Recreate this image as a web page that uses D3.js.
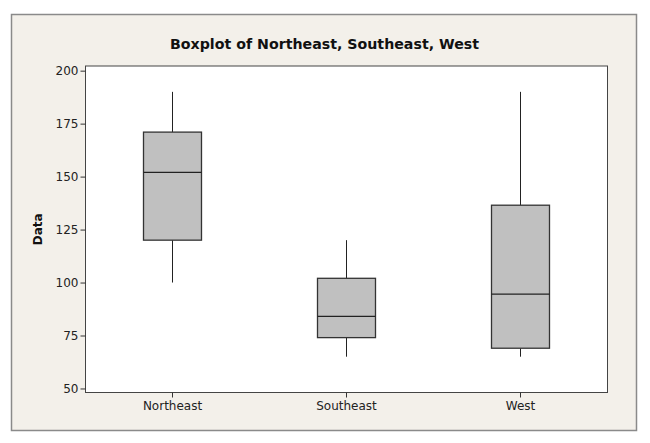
<!DOCTYPE html>
<html>
<head>
<meta charset="utf-8">
<script src="https://cdn.jsdelivr.net/npm/d3@7"></script>
<style>
  body { margin: 0; background: #fff; }
  svg { display: block; }
</style>
</head>
<body>
<script>
// boxplot summary values
const categories = ["Northeast", "Southeast", "West"]
const whiskerLow = [100, 65, 65]
const q1 = [120, 74, 69]
const median = [152, 84, 94.5]
const q3 = [171, 102, 136.5]
const whiskerHigh = [190, 120, 190]
const yTicks = [50, 75, 100, 125, 150, 175, 200]

let w = 650, h = 443
let plot = {left: 85.5, right: 607.5, top: 66, bottom: 392.5}

let svg = d3.select("body").append("svg")
    .attr("width", w)
    .attr("height", h)

// outer panel
svg.append("rect")
    .attr("x", 11.5).attr("y", 14.5)
    .attr("width", 625).attr("height", 416)
    .attr("fill", "#f3f0ea")
    .attr("stroke", "#8a8a8a")
    .attr("stroke-width", 1.5)

svg.append("text")
    .attr("x", (plot.left + plot.right) / 2 - 22)
    .attr("y", 49)
    .attr("text-anchor", "middle")
    .attr("font-family", "DejaVu Sans, sans-serif")
    .attr("font-weight", "bold")
    .attr("font-size", 14.2)
    .attr("fill", "#111")
    .text("Boxplot of Northeast, Southeast, West")

let xScale = d3.scaleBand().domain(categories).range([plot.left, plot.right]).padding(0)
let yScale = d3.scaleLinear().domain([48.1, 202.2]).range([plot.bottom, plot.top])

// plot area
svg.append("rect")
    .attr("x", plot.left).attr("y", plot.top)
    .attr("width", plot.right - plot.left).attr("height", plot.bottom - plot.top)
    .attr("fill", "#fff")
    .attr("stroke", "#444")
    .attr("stroke-width", 1)

let yAxis = d3.axisLeft(yScale).tickValues(yTicks).tickSize(5).tickSizeOuter(0)
let xAxis = d3.axisBottom(xScale).tickSize(5).tickSizeOuter(0)

let gy = svg.append("g")
    .attr("transform", "translate(" + plot.left + ",0)")
    .call(yAxis)
let gx = svg.append("g")
    .attr("transform", "translate(0," + plot.bottom + ")")
    .call(xAxis)

for (let g of [gx, gy]) {
    g.select(".domain").remove()
    g.selectAll(".tick line").attr("stroke", "#333")
    g.selectAll(".tick text")
        .attr("font-family", "DejaVu Sans, sans-serif")
        .attr("font-size", 12)
        .attr("fill", "#222")
}
gy.selectAll(".tick text").attr("x", -7)
gx.selectAll(".tick text").attr("y", 9)

svg.append("text")
    .attr("transform", "translate(42," + ((plot.top + plot.bottom) / 2) + ") rotate(-90)")
    .attr("text-anchor", "middle")
    .attr("font-family", "DejaVu Sans, sans-serif")
    .attr("font-weight", "bold")
    .attr("font-size", 12)
    .attr("fill", "#111")
    .text("Data")

let boxW = xScale.bandwidth() / 3
let boxes = svg.selectAll("g.box")
    .data(categories)
    .enter()
    .append("g")
    .attr("class", "box")

boxes.append("line")
    .attr("x1", d => xScale(d) + xScale.bandwidth() / 2)
    .attr("x2", d => xScale(d) + xScale.bandwidth() / 2)
    .attr("y1", (d, i) => yScale(whiskerHigh[i]))
    .attr("y2", (d, i) => yScale(q3[i]))
    .attr("stroke", "#222")
boxes.append("line")
    .attr("x1", d => xScale(d) + xScale.bandwidth() / 2)
    .attr("x2", d => xScale(d) + xScale.bandwidth() / 2)
    .attr("y1", (d, i) => yScale(q1[i]))
    .attr("y2", (d, i) => yScale(whiskerLow[i]))
    .attr("stroke", "#222")
boxes.append("rect")
    .attr("x", d => xScale(d) + xScale.bandwidth() / 2 - boxW / 2)
    .attr("y", (d, i) => yScale(q3[i]))
    .attr("width", boxW)
    .attr("height", (d, i) => yScale(q1[i]) - yScale(q3[i]))
    .attr("fill", "#c0c0c0")
    .attr("stroke", "#333")
    .attr("stroke-width", 1.3)
boxes.append("line")
    .attr("x1", d => xScale(d) + xScale.bandwidth() / 2 - boxW / 2)
    .attr("x2", d => xScale(d) + xScale.bandwidth() / 2 + boxW / 2)
    .attr("y1", (d, i) => yScale(median[i]))
    .attr("y2", (d, i) => yScale(median[i]))
    .attr("stroke", "#222")
    .attr("stroke-width", 1.3)
</script>
</body>
</html>
